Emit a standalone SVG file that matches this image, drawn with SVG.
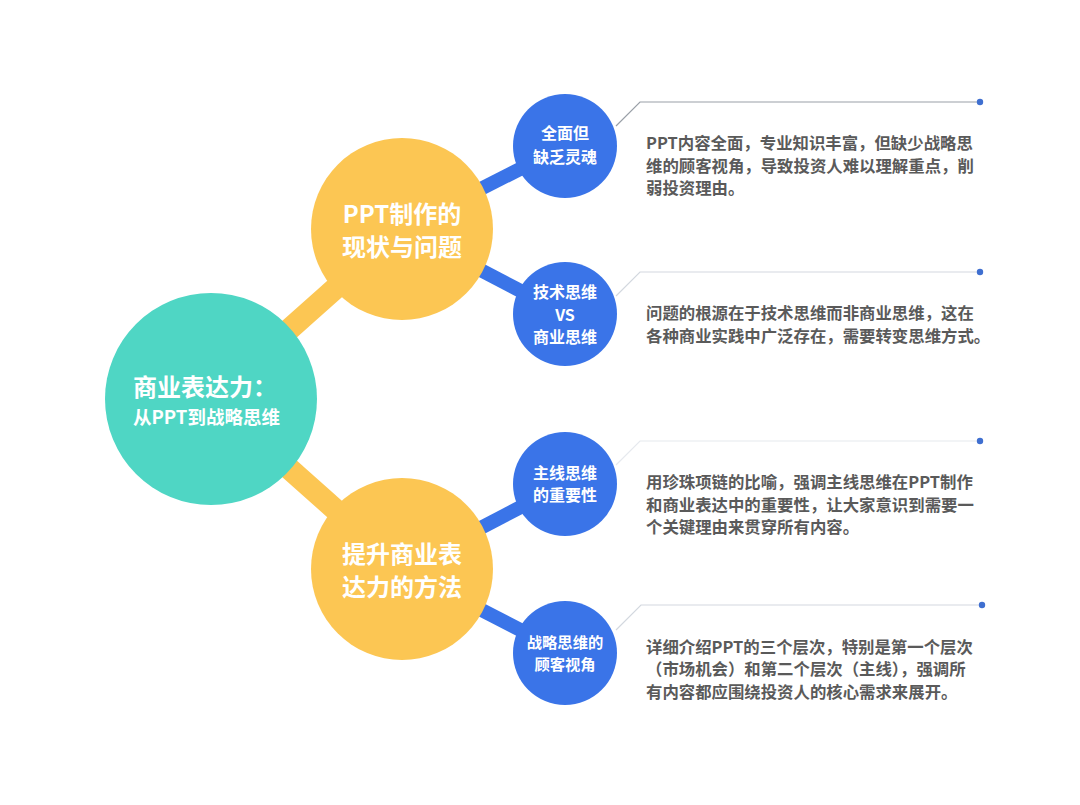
<svg xmlns="http://www.w3.org/2000/svg" width="1080" height="805" viewBox="0 0 1080 805">
<style>
text{font-family:"Noto Sans CJK SC","Noto Sans",sans-serif;font-weight:700}
.w{fill:#ffffff;text-anchor:middle}
.d{fill:#5a5a5a;font-size:16.4px}
.yl{stroke:#fcc653;stroke-width:22}
.bl{stroke:#3a74e8;stroke-width:14}
.ln{fill:none;stroke-width:1.2}
.dot{fill:#3f6fd0}
</style>
<rect width="1080" height="805" fill="#ffffff"/>
<g id="connectors">
<line class="yl" x1="211" y1="399" x2="402" y2="229"/>
<line class="yl" x1="211" y1="399" x2="402" y2="569"/>
<line class="bl" x1="402" y1="229" x2="565" y2="146"/>
<line class="bl" x1="402" y1="229" x2="565" y2="314"/>
<line class="bl" x1="402" y1="569" x2="565" y2="484"/>
<line class="bl" x1="402" y1="569" x2="565" y2="653"/>
<polyline class="ln" stroke="#9aa0a8" points="616,126 640,102 980,102"/>
<polyline class="ln" stroke="#d3d8df" points="616,296 640,272 980,272"/>
<polyline class="ln" stroke="#e6e9ee" points="616,465 640,441 980,441"/>
<polyline class="ln" stroke="#d3d8df" points="616,630 641,605 982,605"/>
<circle class="dot" cx="980" cy="102" r="3.2"/>
<circle class="dot" cx="980" cy="272" r="3.2"/>
<circle class="dot" cx="980" cy="441" r="3.2"/>
<circle class="dot" cx="982" cy="605" r="3.2"/>
</g>
<g id="center">
<circle cx="211" cy="399" r="106" fill="#4fd6c4"/>
<text x="133" y="396" fill="#fff" font-size="24">商业表达力：</text>
<text x="133" y="424" fill="#fff" font-size="18.5">从PPT到战略思维</text>
</g>
<g id="topic1">
<circle cx="402" cy="229" r="91" fill="#fcc653"/>
<text class="w" x="402" y="223" font-size="24">PPT制作的</text>
<text class="w" x="402" y="256" font-size="24">现状与问题</text>
</g>
<g id="topic2">
<circle cx="402" cy="569" r="91" fill="#fcc653"/>
<text class="w" x="402" y="563" font-size="24">提升商业表</text>
<text class="w" x="402" y="596" font-size="24">达力的方法</text>
</g>
<g id="sub1">
<circle cx="565" cy="146" r="52" fill="#3a74e8"/>
<text class="w" x="565" y="139" font-size="16">全面但</text>
<text class="w" x="565" y="163" font-size="16">缺乏灵魂</text>
</g>
<g id="sub2">
<circle cx="565" cy="314" r="52" fill="#3a74e8"/>
<text class="w" x="565" y="298" font-size="16">技术思维</text>
<text class="w" x="565" y="321" font-size="16">VS</text>
<text class="w" x="565" y="343" font-size="16">商业思维</text>
</g>
<g id="sub3">
<circle cx="565" cy="484" r="52" fill="#3a74e8"/>
<text class="w" x="565" y="479" font-size="16">主线思维</text>
<text class="w" x="565" y="501" font-size="16">的重要性</text>
</g>
<g id="sub4">
<circle cx="565" cy="653" r="52" fill="#3a74e8"/>
<text class="w" x="565" y="648" font-size="15.3">战略思维的</text>
<text class="w" x="565" y="670" font-size="15.3">顾客视角</text>
</g>
<g id="desc1">
<text class="d" x="646" y="149">PPT内容全面，专业知识丰富，但缺少战略思</text>
<text class="d" x="646" y="172">维的顾客视角，导致投资人难以理解重点，削</text>
<text class="d" x="646" y="194">弱投资理由。</text>
</g>
<g id="desc2">
<text class="d" x="646" y="319">问题的根源在于技术思维而非商业思维，这在</text>
<text class="d" x="646" y="342">各种商业实践中广泛存在，需要转变思维方式。</text>
</g>
<g id="desc3">
<text class="d" x="646" y="488">用珍珠项链的比喻，强调主线思维在PPT制作</text>
<text class="d" x="646" y="511">和商业表达中的重要性，让大家意识到需要一</text>
<text class="d" x="646" y="533">个关键理由来贯穿所有内容。</text>
</g>
<g id="desc4">
<text class="d" x="646" y="653">详细介绍PPT的三个层次，特别是第一个层次</text>
<text class="d" x="646" y="675">（市场机会）和第二个层次（主线），强调所</text>
<text class="d" x="646" y="698">有内容都应围绕投资人的核心需求来展开。</text>
</g>
</svg>
